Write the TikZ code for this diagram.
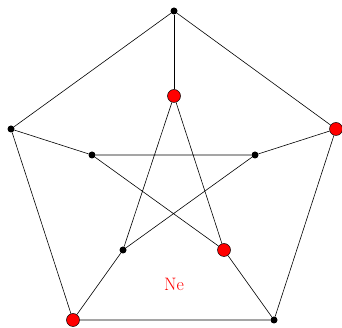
\documentclass[tikz,border=0pt]{standalone}
\begin{document}
\begin{tikzpicture}[x=1pt,y=1pt,
  blk/.style={circle,fill=black,inner sep=0pt,minimum size=7pt},
  rednode/.style={circle,draw=black,fill=red,inner sep=0pt,minimum size=13pt,line width=0.5pt},
  edge/.style={line width=0.6pt}]
\useasboundingbox (0,0) rectangle (342,328);
% outer
\node[blk] (o1) at (174,317) {};
\node[rednode] (o2) at (336,199) {};
\node[blk] (o3) at (274,8) {};
\node[rednode] (o4) at (73,8) {};
\node[blk] (o5) at (11,199) {};
% inner
\node[rednode] (i1) at (174,232) {};
\node[blk] (i2) at (255,173) {};
\node[rednode] (i3) at (224,78) {};
\node[blk] (i4) at (123,78) {};
\node[blk] (i5) at (92,173) {};
\draw[edge] (o1) -- (o2) -- (o3) -- (o4) -- (o5) -- (o1);
\draw[edge] (o1) -- (i1);
\draw[edge] (o2) -- (i2);
\draw[edge] (o3) -- (i3);
\draw[edge] (o4) -- (i4);
\draw[edge] (o5) -- (i5);
\draw[edge] (i1) -- (i3) -- (i5) -- (i2) -- (i4) -- (i1);
\node[text=red,font=\fontsize{18}{22}\selectfont] (ne) at (174,44) {Ne};
\end{tikzpicture}
\end{document}
